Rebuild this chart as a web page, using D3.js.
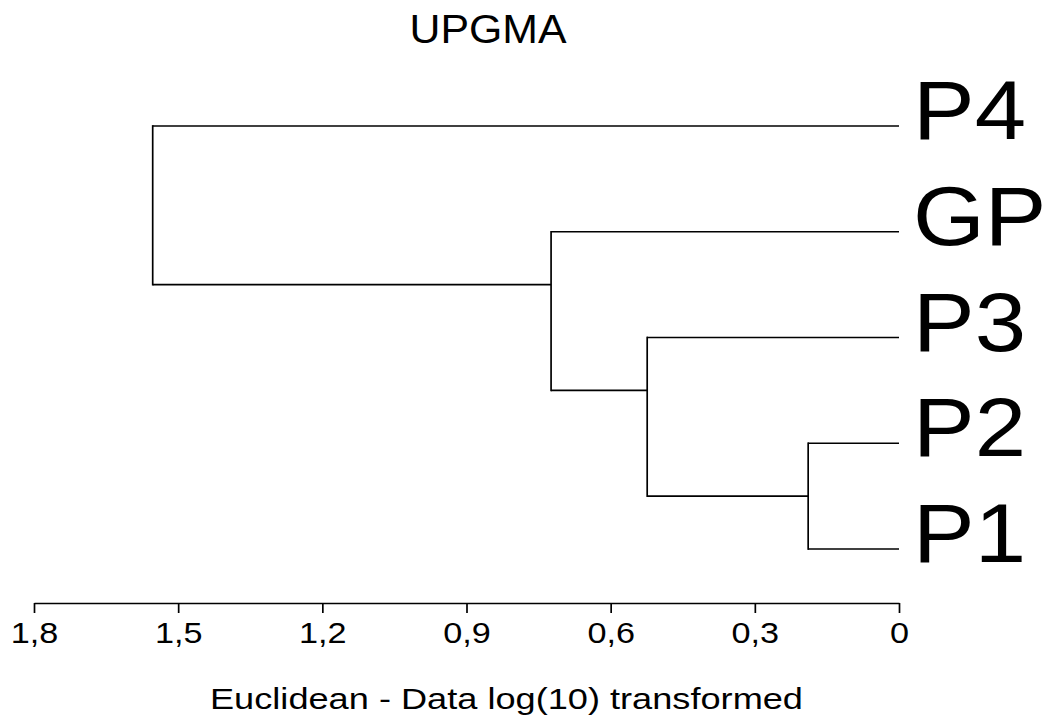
<!DOCTYPE html>
<html>
<head>
<meta charset="utf-8">
<script src="https://cdn.jsdelivr.net/npm/d3@7"></script>
<style>
  html, body { margin: 0; padding: 0; background: #fff; }
  svg { display: block; font-family: "Liberation Sans", Arial, sans-serif; }
</style>
</head>
<body>
<svg id="chart" width="1062" height="722"></svg>
<script>
// ---- data ----
const leaves = ["P4", "GP", "P3", "P2", "P1"];
// clusters listed by merge order (members in leaf order) and their joining distances
const clusterMembers = [
  ["P2", "P1"],
  ["P3", "P2", "P1"],
  ["GP", "P3", "P2", "P1"],
  ["P4", "GP", "P3", "P2", "P1"]
];
const clusterHeights = [0.189, 0.524, 0.724, 1.553];
const tickValues = [1.8, 1.5, 1.2, 0.9, 0.6, 0.3, 0];
const titleText = "UPGMA";
const xLabelText = "Euclidean - Data log(10) transformed";

// ---- build tree ----
const nodes = {};
leaves.forEach(l => nodes[l] = { name: l, height: 0, members: [l], children: null });
clusterMembers.forEach((mem, i) => {
  const key = mem.join("|");
  const existing = Object.values(nodes).filter(n => !n.used && n.members.every(m => mem.includes(m)) && n.members.length < mem.length);
  const maximal = existing.filter(a => !existing.some(b => b !== a && b.members.length > a.members.length && a.members.every(m => b.members.includes(m))));
  maximal.sort((a, b) => leaves.indexOf(a.members[0]) - leaves.indexOf(b.members[0]));
  maximal.forEach(c => c.used = true);
  nodes[key] = { name: key, height: clusterHeights[i], members: mem, children: maximal };
});
const rootData = nodes[clusterMembers[clusterMembers.length - 1].join("|")];
const root = d3.hierarchy(rootData, d => d.children);

// ---- scales ----
const svg = d3.select("#chart");
const x = d3.scaleLinear().domain([1.8, 0]).range([34, 899]);
const yLeaf = d3.scalePoint().domain(leaves).range([126, 549]);

// node y: midpoint of its first two leaves (as drawn by the source program)
root.each(d => {
  const m = d.data.members;
  d.py = m.length === 1 ? yLeaf(m[0]) : (yLeaf(m[0]) + yLeaf(m[1])) / 2;
  d.px = x(d.data.height);
});

const g = svg.append("g").attr("fill", "none").attr("stroke", "#000").attr("stroke-width", 1.7);
root.descendants().forEach(d => {
  if (d.children) {
    const ys = d.children.map(c => c.py);
    g.append("line")
      .attr("x1", d.px).attr("x2", d.px)
      .attr("y1", d3.min(ys)).attr("y2", d3.max(ys))
      .attr("stroke-linecap", "square");
    d.children.forEach(c => {
      g.append("line")
        .attr("x1", d.px).attr("x2", c.px)
        .attr("y1", c.py).attr("y2", c.py);
    });
  }
});

// leaf labels
svg.append("g").selectAll("text")
  .data(root.leaves())
  .join("text")
  .attr("x", d => d.px + 14)
  .attr("y", d => d.py + 13)
  .attr("font-size", 84)
  .attr("fill", "#000")
  .text(d => d.data.name)
  .attr("textLength", function () { return this.getComputedTextLength() * 1.1; })
  .attr("lengthAdjust", "spacingAndGlyphs");

// axis
const loc = d3.formatLocale({ decimal: ",", thousands: ".", grouping: [3], currency: ["", ""] });
const fmt = loc.format(".2~g");
const axis = d3.axisBottom(x).tickValues(tickValues).tickFormat(fmt).tickSize(10).tickPadding(9).tickSizeOuter(0);
const ax = svg.append("g").attr("transform", "translate(0,603)").call(axis);
ax.selectAll("path, line").attr("stroke", "#000").attr("stroke-width", 1.7);
ax.selectAll("text").attr("font-size", 29).attr("fill", "#000")
  .attr("font-family", "'Liberation Sans', Arial, sans-serif")
  .attr("textLength", function () { return this.getComputedTextLength() * 1.18; })
  .attr("lengthAdjust", "spacingAndGlyphs");

// title
svg.append("text")
  .attr("x", 488).attr("y", 43)
  .attr("text-anchor", "middle")
  .attr("font-size", 40)
  .attr("textLength", 157).attr("lengthAdjust", "spacingAndGlyphs")
  .text(titleText);

// x label
svg.append("text")
  .attr("x", 210).attr("y", 709)
  .attr("font-size", 30)
  .attr("textLength", 593).attr("lengthAdjust", "spacingAndGlyphs")
  .text(xLabelText);
</script>
</body>
</html>
